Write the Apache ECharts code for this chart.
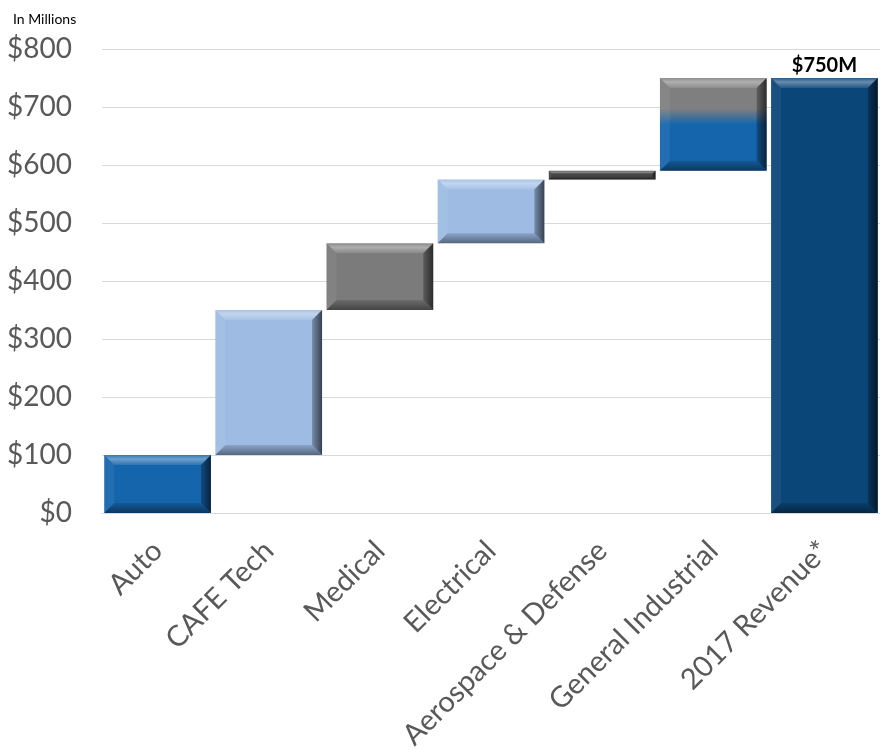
<!DOCTYPE html>
<html>
<head>
<meta charset="utf-8">
<script src="https://cdn.jsdelivr.net/npm/echarts@6/dist/echarts.min.js"></script>
<style>
  html, body { margin: 0; padding: 0; background: #fff; }
  #main { width: 880px; height: 750px; }
</style>
</head>
<body>
<div id="main"></div>
<script>
// 数据
var categories = ['Auto', 'CAFE Tech', 'Medical', 'Electrical', 'Aerospace & Defense', 'General Industrial', '2017 Revenue*'];
var increments = [100, 250, 115, 110, 15, 160];
var totalRevenue = 750;
var totalLabel = '$750M';
var barColors = ['#1565ad', '#9dbbe3', '#7b7b7b', '#9dbbe3', '#454545', 'mixed', '#0b4679'];

// 瀑布图：每根柱子的起止
var barData = [];
var running = 0;
for (var i = 0; i < increments.length; i++) {
    barData.push([i, running, running + increments[i]]);
    running += increments[i];
}
barData.push([categories.length - 1, 0, totalRevenue]);

var myChart = echarts.init(document.getElementById('main'));

function faceColor(idx) {
    if (barColors[idx] === 'mixed') {
        return new echarts.graphic.LinearGradient(0, 0, 0, 1, [
            { offset: 0, color: '#7f7f7f' },
            { offset: 0.33, color: '#7f7f7f' },
            { offset: 0.5, color: '#1565ad' },
            { offset: 1, color: '#1565ad' }
        ]);
    }
    return barColors[idx];
}

// 斜面效果的柱子
function renderItem(params, api) {
    var idx = api.value(0);
    var top = api.coord([idx, api.value(2)]);
    var bottom = api.coord([idx, api.value(1)]);
    var w = api.size([1, 0])[0] * 0.96;
    var x = top[0] - w / 2, y = top[1], h = bottom[1] - top[1];
    var b = Math.min(10, h * 0.35);

    var children = [
        { type: 'rect', shape: { x: x, y: y, width: w, height: h }, style: { fill: faceColor(idx) } },
        {
            type: 'polygon',
            shape: { points: [[x, y], [x + w, y], [x + w - b, y + b], [x + b, y + b]] },
            style: { fill: new echarts.graphic.LinearGradient(0, 0, 0, 1, [
                { offset: 0, color: 'rgba(255,255,255,0.12)' },
                { offset: 0.4, color: 'rgba(255,255,255,0.38)' },
                { offset: 1, color: 'rgba(255,255,255,0.1)' }
            ]) }
        },
        {
            type: 'polygon',
            shape: { points: [[x, y], [x + b, y + b], [x + b, y + h - b], [x, y + h]] },
            style: { fill: 'rgba(255,255,255,0.06)' }
        },
        {
            type: 'polygon',
            shape: { points: [[x, y + h], [x + w, y + h], [x + w - b, y + h - b], [x + b, y + h - b]] },
            style: { fill: new echarts.graphic.LinearGradient(0, 0, 0, 1, [
                { offset: 0, color: 'rgba(0,0,0,0.12)' },
                { offset: 1, color: 'rgba(0,0,0,0.45)' }
            ]) }
        },
        {
            type: 'polygon',
            shape: { points: [[x + w, y], [x + w - b, y + b], [x + w - b, y + h - b], [x + w, y + h]] },
            style: { fill: new echarts.graphic.LinearGradient(0, 0, 1, 0, [
                { offset: 0, color: 'rgba(0,0,0,0.25)' },
                { offset: 1, color: 'rgba(0,0,0,0.65)' }
            ]) }
        }
    ];
    if (idx === categories.length - 1) {
        children.push({
            type: 'text',
            style: {
                text: totalLabel, x: top[0], y: y - 2,
                align: 'center', verticalAlign: 'bottom',
                font: 'bold 20px Lato', fill: '#000'
            }
        });
    }
    return { type: 'group', children: children };
}

option = {
    animation: false,
    textStyle: { fontFamily: 'Lato' },
    title: {
        text: 'In Millions',
        left: 8,
        top: 7,
        textStyle: { fontSize: 14, fontWeight: 'normal', color: '#000', fontFamily: 'Lato' }
    },
    grid: {
        left: 102,
        right: 0,
        top: 49,
        bottom: 237,
        containLabel: false,
        outerBoundsMode: 'none'
    },
    xAxis: {
        type: 'category',
        data: categories,
        axisTick: { show: false },
        axisLine: { lineStyle: { color: '#d9d9d9', width: 1 } },
        axisLabel: {
            rotate: 45,
            margin: 33,
            fontSize: 29,
            color: '#595959',
            fontFamily: 'Lato',
            interval: 0
        }
    },
    yAxis: {
        type: 'value',
        min: 0,
        max: 800,
        interval: 100,
        axisLine: { show: false },
        axisTick: { show: false },
        splitLine: { lineStyle: { color: '#d9d9d9', width: 1 } },
        axisLabel: {
            margin: 30,
            fontSize: 28,
            color: '#595959',
            fontFamily: 'Lato',
            formatter: '${value}'
        }
    },
    series: [
        {
            name: '收入',
            type: 'custom',
            renderItem: renderItem,
            clip: false,
            encode: { x: 0, y: [1, 2] },
            data: barData
        }
    ]
};

myChart.setOption(option);
</script>
</body>
</html>
